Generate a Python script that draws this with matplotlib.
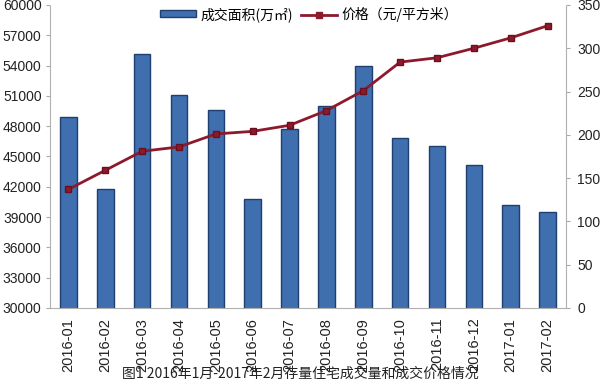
import matplotlib
matplotlib.use("Agg")
import matplotlib.pyplot as plt
from matplotlib.lines import Line2D
from matplotlib.patches import Patch
import numpy as np

plt.rcParams['font.family'] = ['Liberation Sans', 'Noto Sans CJK SC', 'DejaVu Sans']

months = ["2016-01", "2016-02", "2016-03", "2016-04", "2016-05", "2016-06", "2016-07",
          "2016-08", "2016-09", "2016-10", "2016-11", "2016-12", "2017-01", "2017-02"]
area = [48900, 41800, 55100, 51100, 49600, 40800, 47700,
        50000, 54000, 46800, 46000, 44200, 40200, 39500]
price = [137, 159, 181, 186, 201, 204, 211, 228, 251, 284, 289, 300, 312, 326]

area_label = "成交面积(万㎡)"
price_label = "价格（元/平方米）"
caption = "图1 2016年1月-2017年2月存量住宅成交量和成交价格情况"

fig = plt.figure(figsize=(6, 3.83), dpi=100)
ax = fig.add_axes([0.0833, 0.196, 0.86, 0.791])
x = np.arange(len(months))
ax.bar(x, area, width=0.45, color="#3f6fae", edgecolor="#1f3f6e", linewidth=1.0, zorder=2)
ax.set_ylim(30000, 60000)
ax.set_yticks(np.arange(30000, 60001, 3000))
ax.set_xlim(-0.5, len(months) - 0.5)
ax.set_xticks(x)
ax.set_xticklabels(months, rotation=90, fontsize=10.5, color="#222222")
ax.tick_params(axis='y', labelsize=10, colors="#222222", length=3, color="#aaaaaa", pad=3)
ax.tick_params(axis='x', length=0, pad=7)
for s in ["top", "right"]:
    ax.spines[s].set_visible(False)
for s in ["left", "bottom"]:
    ax.spines[s].set_color("#b0b0b0")
    ax.spines[s].set_linestyle((0, (2, 1)))
    ax.spines[s].set_linewidth(0.8)

ax2 = ax.twinx()
ax2.plot(x, price, color="#8c1a2c", linewidth=2, marker="s", markersize=5,
         markerfacecolor="#8c1a2c", markeredgecolor="#6a0f1e", zorder=3)
ax2.set_ylim(0, 350)
ax2.set_yticks(np.arange(0, 351, 50))
ax2.tick_params(axis='y', labelsize=10, colors="#222222", length=3, color="#aaaaaa", pad=5)
for s in ["top", "left", "bottom"]:
    ax2.spines[s].set_visible(False)
ax2.spines["right"].set_color("#b0b0b0")
ax2.spines["right"].set_linestyle((0, (2, 1)))
ax2.spines["right"].set_linewidth(0.8)

handles = [Patch(facecolor="#3f6fae", edgecolor="#1f3f6e", label=area_label),
           Line2D([0], [0], color="#8c1a2c", linewidth=2, marker="s", markersize=5, label=price_label)]
fig.legend(handles=handles, loc="upper center", bbox_to_anchor=(0.515, 1.015), ncol=2,
           frameon=False, handlelength=2.6, handleheight=0.4, handletextpad=0.3,
           columnspacing=0.6,
           prop={'family': ['Noto Sans CJK SC', 'DejaVu Sans'], 'size': 10})

fig.text(0.5, 0.005, caption, ha="center", va="bottom", fontsize=10,
         family=['Noto Sans CJK SC', 'DejaVu Sans'], color="#222222")

fig.savefig("out.png", dpi=100, facecolor="white")
